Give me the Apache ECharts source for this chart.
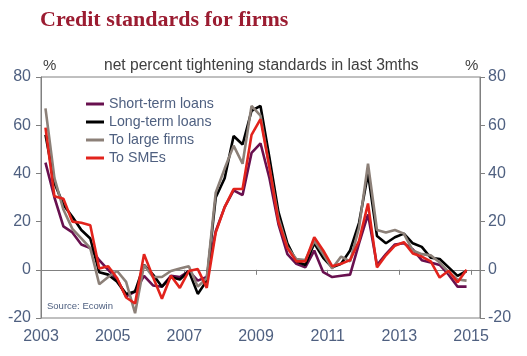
<!DOCTYPE html>
<html><head><meta charset="utf-8">
<script src="https://cdn.jsdelivr.net/npm/echarts@6/dist/echarts.min.js"></script>
<style>html,body{margin:0;padding:0;background:#fff}#c{width:527px;height:356px}</style>
</head><body><div id="c"></div>
<script>
const quarters = [
 '2003Q1','2003Q2','2003Q3','2003Q4','2004Q1','2004Q2','2004Q3','2004Q4',
 '2005Q1','2005Q2','2005Q3','2005Q4','2006Q1','2006Q2','2006Q3','2006Q4',
 '2007Q1','2007Q2','2007Q3','2007Q4','2008Q1','2008Q2','2008Q3','2008Q4',
 '2009Q1','2009Q2','2009Q3','2009Q4','2010Q1','2010Q2','2010Q3','2010Q4',
 '2011Q1','2011Q2','2011Q3','2011Q4','2012Q1','2012Q2','2012Q3','2012Q4',
 '2013Q1','2013Q2','2013Q3','2013Q4','2014Q1','2014Q2','2014Q3','2014Q4'
];
const shortTerm = [44.5,30,18,15.5,10.5,9,4,0,-4,-11,-9,-2.5,-6.5,-7,-2.5,-3,-0.5,-4.5,-3,16,26,33,31,48.5,52.5,38,19,6.5,2.5,1,8,-1,-3,-2.5,-2,11,23,2,6.5,10.5,11,8.5,4,3,2,-2,-7,-7];
const longTerm = [56,36,27,22,16.5,13,-1,-2,-5,-10,-9,2,-2,-7,-3,-4,-0.5,-10,-4.5,30,38,55.5,52,66,68,46.5,24,11,3.5,2,11,5,1,2.5,8,19.5,40,14,11,13.5,15,11,9.5,5,4.5,1,-2.5,-0.5];
const largeFirms = [67,38,25,17,13,9,-6,-3,-0.5,-5,-18,2,-3,-3,-0.5,0.5,1.5,-7,-3.5,32,42,51.5,44,68,64,42.5,21.5,9.5,4.5,4,12,6.5,0.5,5.5,3.5,17.5,44,16.5,15.5,16.5,15,8,6.5,6,3,-1,-4,-4.5];
const smes = [59,30.5,29.5,20,19.5,18.5,0.5,1.5,-3.5,-11.5,-14,6.5,-3,-12,-2.5,-7.5,-0.5,0.3,-7.5,15.5,26,33.5,33.5,56,62.5,42.5,20,9,3.5,3.5,13.5,8,1.5,2.5,4,12,27.5,1,6,10,11.5,6.8,5.5,3.5,-3.2,-0.4,-5.2,0];
const seriesNames = ['Short-term loans','Long-term loans','To large firms','To SMEs'];
const seriesColors = ['#68104f','#000000','#8c8078','#e2231c'];
const xYears = [2003,2005,2007,2009,2011,2013,2015];
const yTicks = [-20,0,20,40,60,80];

function qToX(q){ const y = +q.slice(0,4), n = +q.slice(5); return y + (n-1)*0.25 + 0.125; }
const xs = quarters.map(qToX);
const allVals = [shortTerm, longTerm, largeFirms, smes];

const labelColor = '#4f6080';
const axisGray = '#808080';
const chart = echarts.init(document.getElementById('c'), null, {renderer:'canvas'});
chart.setOption({
  animation:false,
  backgroundColor:'#fff',
  title:[
    {text:'Credit standards for firms', left:40, top:9, padding:0,
     textStyle:{fontFamily:'Liberation Serif', fontWeight:'bold', fontSize:22, color:'#9b1c31'}},
    {text:'net percent tightening standards in last 3mths', left:104, top:58, padding:0,
     textStyle:{fontFamily:'Liberation Sans', fontWeight:'normal', fontSize:15.6, color:'#404040'}},
    {text:'%', left:43, top:58, padding:0, textStyle:{fontFamily:'Liberation Sans', fontWeight:'normal', fontSize:15, color:'#404040'}},
    {text:'%', left:465, top:58, padding:0, textStyle:{fontFamily:'Liberation Sans', fontWeight:'normal', fontSize:15, color:'#404040'}},
    {text:'Source: Ecowin', left:47, top:301, padding:0, textStyle:{fontFamily:'Liberation Sans', fontWeight:'normal', fontSize:9.5, color:labelColor}}
  ],
  legend:{
    orient:'vertical', left:86, top:97, padding:0, itemGap:4,
    itemWidth:18, itemHeight:3, icon:'rect',
    data:seriesNames,
    textStyle:{fontFamily:'Liberation Sans', fontSize:14.2, color:labelColor, lineHeight:14}
  },
  grid:{left:41, right:47, top:77, bottom:38, show:true, borderColor:axisGray, borderWidth:1, backgroundColor:'transparent'},
  xAxis:[
    {type:'value', min:2003, max:2015.25, interval:2, position:'bottom',
     axisLine:{show:false, onZero:false}, axisTick:{show:false}, splitLine:{show:false},
     axisLabel:{fontFamily:'Liberation Sans', fontSize:16, color:labelColor, margin:11,
       formatter:v => xYears.indexOf(v) >= 0 ? String(v) : ''}},
    {type:'value', min:2003, max:2015.25, interval:2, position:'top',
     axisLine:{show:true, onZero:true, lineStyle:{color:axisGray, width:1}},
     axisTick:{show:true, inside:true, length:5, lineStyle:{color:axisGray}},
     axisLabel:{show:false}, splitLine:{show:false}}
  ],
  yAxis:[
    {type:'value', min:-20, max:80, interval:20, position:'left',
     axisLine:{show:true, lineStyle:{color:axisGray}}, axisTick:{show:true, length:5, lineStyle:{color:axisGray}},
     splitLine:{show:false},
     axisLabel:{fontFamily:'Liberation Sans', fontSize:16, color:labelColor, margin:10,
       formatter:v => yTicks.indexOf(v) >= 0 ? String(v) : ''}},
    {type:'value', min:-20, max:80, interval:20, position:'right',
     axisLine:{show:true, lineStyle:{color:axisGray}}, axisTick:{show:true, length:5, lineStyle:{color:axisGray}},
     splitLine:{show:false},
     axisLabel:{fontFamily:'Liberation Sans', fontSize:16, color:labelColor, margin:8,
       formatter:v => yTicks.indexOf(v) >= 0 ? String(v) : ''}}
  ],
  series: seriesNames.map((name, k) => ({
    name, type:'line', xAxisIndex:0, yAxisIndex:0, showSymbol:false, symbol:'none',
    color:seriesColors[k],
    lineStyle:{width:2.6, color:seriesColors[k]},
    data: xs.map((x, i) => [x, allVals[k][i]])
  }))
});
</script></body></html>
